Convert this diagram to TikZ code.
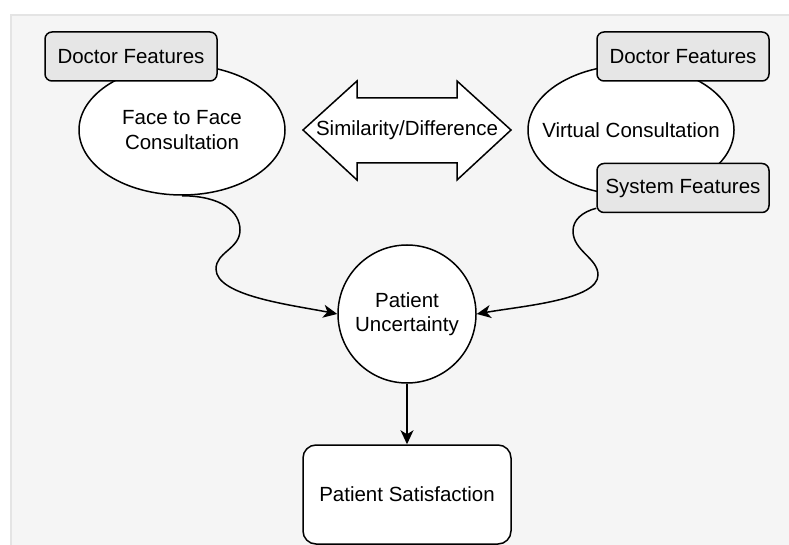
\documentclass[tikz,border=0pt]{standalone}
\usepackage{fontspec}
\setmainfont{Liberation Sans}
\usetikzlibrary{arrows.meta,shapes.geometric}
\definecolor{panelbg}{HTML}{F5F5F5}
\definecolor{panelrule}{HTML}{E4E4E4}
\definecolor{featfill}{HTML}{E6E6E6}
\begin{document}
\begin{tikzpicture}[x=1pt,y=-1pt,
  every node/.style={font=\fontsize{20.5}{24.5}\selectfont, text=black, inner sep=0pt},
  outline/.style={draw=black, line width=1.5pt},
  consult/.style={outline, ellipse, fill=white,
                  minimum width=206pt, minimum height=130pt},
  feature/.style={outline, rectangle, rounded corners=7pt, fill=featfill,
                  minimum width=172pt, minimum height=49pt},
  hub/.style={outline, circle, fill=white, align=center, minimum size=138pt},
  outcome/.style={outline, rectangle, rounded corners=13pt, fill=white,
                  minimum width=208pt, minimum height=99pt},
  edge/.style={draw=black, line width=1.5pt,
               -{Stealth[length=14pt,width=13pt,inset=4pt]}},
]
\useasboundingbox (0,0) rectangle (789,545);
\clip (0,0) rectangle (789,545);
\fill[white] (0,0) rectangle (789,545);
\draw[panelrule, fill=panelbg, line width=1.5pt] (11,15) rectangle (820,580);

% consultation modes (fixed size, caption set as a centred label)
\node[consult, label={[align=center]center:Face to Face\\Consultation}] (f2f) at (182,130) {};
\node[consult, label={center:Virtual Consultation}] (virt) at (631,130) {};

% feature tags
\node[feature] (docL) at (131,56.5) {Doctor Features};
\node[feature] (docR) at (683,56.5) {Doctor Features};
\node[feature] (sys) at (683,188) {System Features};

% comparison arrow
\draw[outline, fill=white, line join=miter]
  (303,130) -- (357,81) -- (357,98) -- (457,98) -- (457,81) -- (511,130)
  -- (457,180) -- (457,163) -- (357,163) -- (357,180) -- cycle;
\node (sim) at (407,130) {Similarity/Difference};

% outcome chain
\node[hub] (unc) at (407,314) {Patient\\Uncertainty};
\node[outcome] (sat) at (407,494.5) {Patient Satisfaction};

% connectors
\coordinate (lA) at (240,230);
\coordinate (lB) at (216,269);
\coordinate (rA) at (573,231);
\coordinate (rB) at (598,275);
\draw[edge] (f2f.south) .. controls (222,196) and (240,212) .. (lA)
  .. controls (240,249) and (216,252) .. (lB)
  .. controls (216,296) and (292,305) .. (unc.west);
\draw[edge] ([yshift=5pt]sys.south west) .. controls (582,212) and (573,220) .. (rA)
  .. controls (573,251) and (598,258) .. (rB)
  .. controls (598,300) and (522,306) .. (unc.east);
\draw[edge] (unc.south) -- (sat.north);
\end{tikzpicture}
\end{document}
